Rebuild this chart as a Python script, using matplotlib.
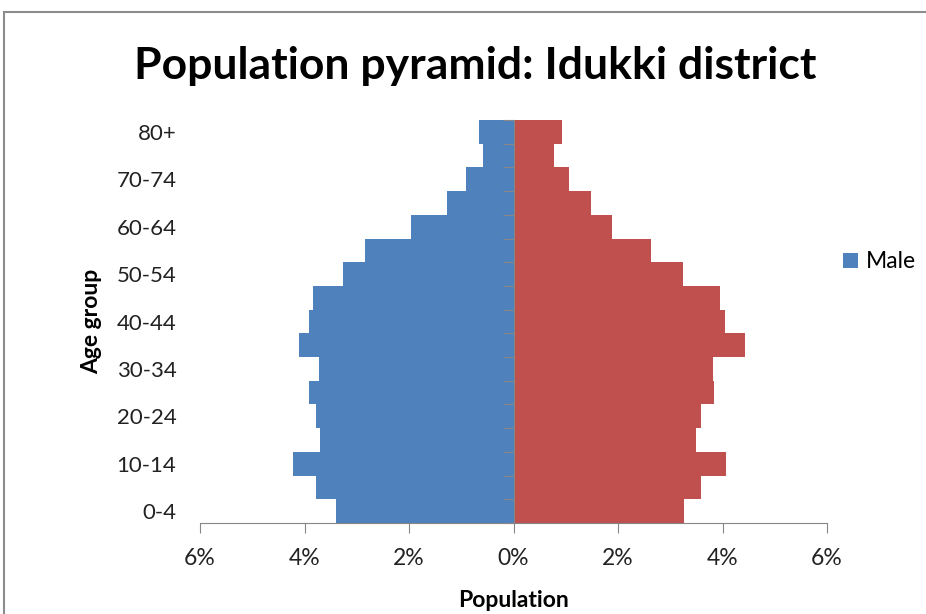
import matplotlib
matplotlib.use("Agg")
import matplotlib.pyplot as plt
from matplotlib.patches import Rectangle
import numpy as np

# Age groups, youngest first
age_groups = ["0-4", "5-9", "10-14", "15-19", "20-24", "25-29", "30-34", "35-39",
              "40-44", "45-49", "50-54", "55-59", "60-64", "65-69", "70-74", "75-79", "80+"]

# Share of total population (%)
male_pct = [3.39, 3.78, 4.22, 3.71, 3.78, 3.92, 3.73, 4.10,
            3.92, 3.83, 3.27, 2.85, 1.97, 1.28, 0.91, 0.59, 0.66]
female_pct = [3.27, 3.59, 4.06, 3.50, 3.59, 3.84, 3.82, 4.43,
              4.04, 3.96, 3.25, 2.64, 1.88, 1.49, 1.07, 0.78, 0.92]

x_ticks = [-6, -4, -2, 0, 2, 4, 6]

plt.rcParams['font.family'] = ['Lato', 'DejaVu Sans']

BLUE = "#4F81BD"
RED = "#C0504D"
GREY = "#868686"

fig = plt.figure(figsize=(9.26, 6.14), dpi=100)
ax = fig.add_axes([200 / 926, 1 - 523 / 614, 627 / 926, 403 / 614])

y = np.arange(len(age_groups))
ax.barh(y, -np.array(male_pct), height=1.0, color=BLUE, label="Male")
ax.barh(y, female_pct, height=1.0, color=RED)

ax.set_xlim(-6, 6)
ax.set_ylim(-0.5, len(age_groups) - 0.5)

# x axis: absolute percentages either side of zero
ax.set_xticks(x_ticks)
ax.set_xticklabels([f"{abs(v)}%" for v in x_ticks])
ax.tick_params(axis='x', direction='out', length=7, color=GREY, labelsize=16.5,
               pad=11, labelcolor="#222222")

# y axis sits on the zero line, tick marks between the age groups
for side in ("top", "right"):
    ax.spines[side].set_visible(False)
ax.spines['left'].set_position(('data', 0))
ax.spines['left'].set_color(GREY)
ax.spines['bottom'].set_color(GREY)
ax.set_yticks(np.arange(len(age_groups) + 1) - 0.5)
ax.set_yticklabels([])
ax.tick_params(axis='y', direction='out', length=8, color=GREY)

# category labels on the far left, every other group
sec = ax.secondary_yaxis(0.0)
sec.set_yticks(y[::2])
sec.set_yticklabels(age_groups[::2])
sec.tick_params(length=0, labelsize=16, pad=17, labelcolor="#222222")
sec.spines['left'].set_visible(False)
sec.set_ylabel("Age group", fontsize=16.5, fontweight='bold', labelpad=10)

ax.set_xlabel("Population", fontsize=16.5, fontweight='bold', labelpad=15)

fig.text(475 / 926, 1 - 66 / 614, "Population pyramid: Idukki district",
         fontsize=32, fontweight='bold', ha='center', va='center')

ax.legend(loc='center left', bbox_to_anchor=(1.0, 0.648), frameon=False,
          fontsize=16.5, handlelength=0.65, handleheight=0.65, handletextpad=0.35,
          borderaxespad=0.3)

# chart border (runs off the right and bottom edges)
fig.patches.append(Rectangle((4 / 926, -0.1), 1.2, 1.1 - 12 / 614,
                             transform=fig.transFigure, fill=False,
                             edgecolor="#8c8c8c", linewidth=1.5))

fig.savefig("out.png", dpi=100)
